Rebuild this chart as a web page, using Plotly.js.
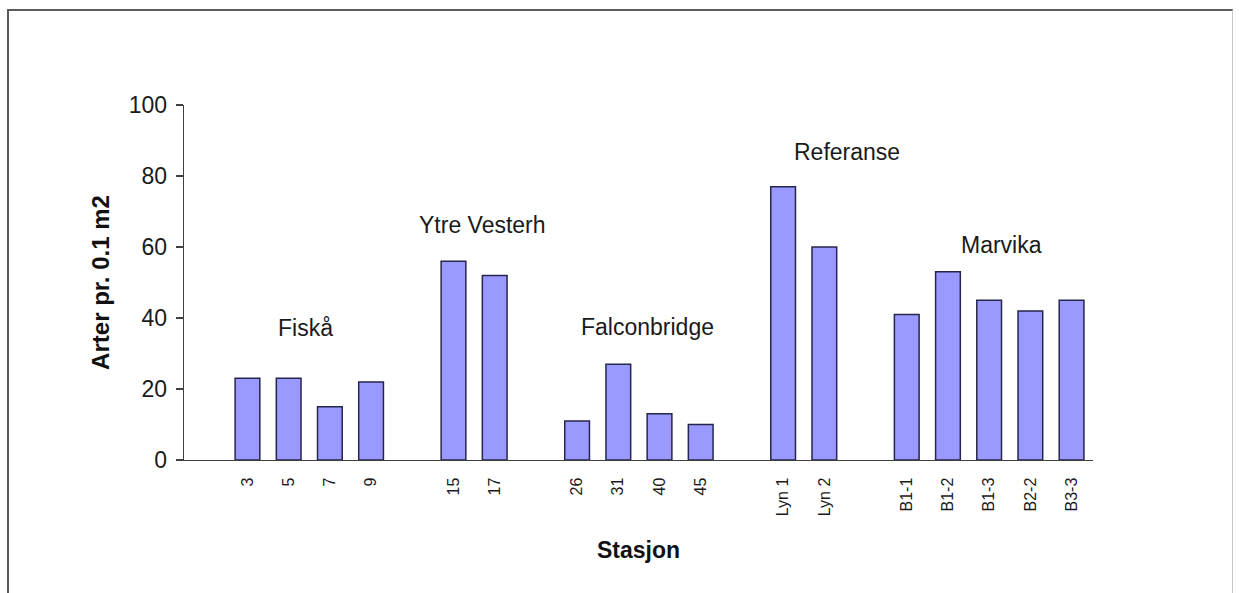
<!DOCTYPE html>
<html>
<head>
<meta charset="utf-8">
<script src="https://cdn.plot.ly/plotly-3.0.1.min.js"></script>
<style>
  html, body { margin: 0; padding: 0; background: #fff; }
  #frame { position: absolute; left: 7px; top: 9px; width: 1226px; height: 600px;
           border-top: 2px solid #5a5a5a; border-left: 2px solid #5a5a5a; border-right: 1px solid #c8c8c8; box-sizing: border-box; }
  #chart { position: absolute; left: 0; top: 0; width: 1239px; height: 593px; }
</style>
</head>
<body>
<div id="frame"></div>
<div id="chart"></div>
<script>
// Data
const groups = ['Fiskå', 'Ytre Vesterh', 'Falconbridge', 'Referanse', 'Marvika'];
const fiskaStations = ['3', '5', '7', '9'];
const fiskaValues = [23, 23, 15, 22];
const ytreStations = ['15', '17'];
const ytreValues = [56, 52];
const falconStations = ['26', '31', '40', '45'];
const falconValues = [11, 27, 13, 10];
const refStations = ['Lyn 1', 'Lyn 2'];
const refValues = [77, 60];
const marvikaStations = ['B1-1', 'B1-2', 'B1-3', 'B2-2', 'B3-3'];
const marvikaValues = [41, 53, 45, 42, 45];
const yTicks = [0, 20, 40, 60, 80, 100];

const stationSets = [fiskaStations, ytreStations, falconStations, refStations, marvikaStations];
const valueSets = [fiskaValues, ytreValues, falconValues, refValues, marvikaValues];

// Build category order with empty spacer slots between groups
const cats = [], vals = [];
stationSets.forEach((st, gi) => {
  if (gi > 0) { cats.push(' '.repeat(gi)); vals.push(null); }
  st.forEach((s, i) => { cats.push(s); vals.push(valueSets[gi][i]); });
});

// Group label placement (category index, value)
const labelX = [1.4, 5.7, 9.7, 14.55, 18.3];
const labelY = [37.2, 66.2, 37.5, 86.8, 60.6];

const trace = {
  type: 'bar',
  x: cats,
  y: vals,
  marker: { color: '#9999ff', line: { color: '#26264a', width: 1.5 } },
  hoverinfo: 'x+y'
};

const font = 'Liberation Sans, Arial, sans-serif';

const layout = {
  width: 1239, height: 593,
  margin: { l: 184, r: 146, t: 105, b: 133 },
  paper_bgcolor: 'rgba(0,0,0,0)',
  plot_bgcolor: 'rgba(0,0,0,0)',
  showlegend: false,
  bargap: 0.4,
  font: { family: font, color: '#1a1a1a' },
  xaxis: {
    type: 'category',
    categoryorder: 'array',
    categoryarray: cats,
    range: [-1.54, 20.52],
    showline: true, linecolor: '#404040', linewidth: 1.3,
    ticks: '', showgrid: false, zeroline: false,
    tickangle: -90,
    tickfont: { size: 16, color: '#1a1a1a' },
    ticklabelstandoff: 10,
    title: { text: '<b>Stasjon</b>', font: { size: 23, color: '#111' }, standoff: 26 }
  },
  yaxis: {
    range: [0, 100],
    tickvals: yTicks,
    showline: true, linecolor: '#404040', linewidth: 1.3,
    ticks: 'outside', ticklen: 7, tickcolor: '#404040', tickwidth: 1.3,
    showgrid: false, zeroline: false,
    tickfont: { size: 23, color: '#1a1a1a' },
    ticklabelstandoff: 4,
    title: { text: '<b>Arter pr. 0.1 m2</b>', font: { size: 24, color: '#111' }, standoff: 12 }
  },
  annotations: groups.map((g, i) => ({
    text: g, x: labelX[i], y: labelY[i], xref: 'x', yref: 'y',
    showarrow: false, font: { size: 23, color: '#1a1a1a', family: font },
    xanchor: 'center', yanchor: 'middle'
  }))
};

Plotly.newPlot('chart', [trace], layout, { displayModeBar: false, staticPlot: true });
</script>
</body>
</html>
